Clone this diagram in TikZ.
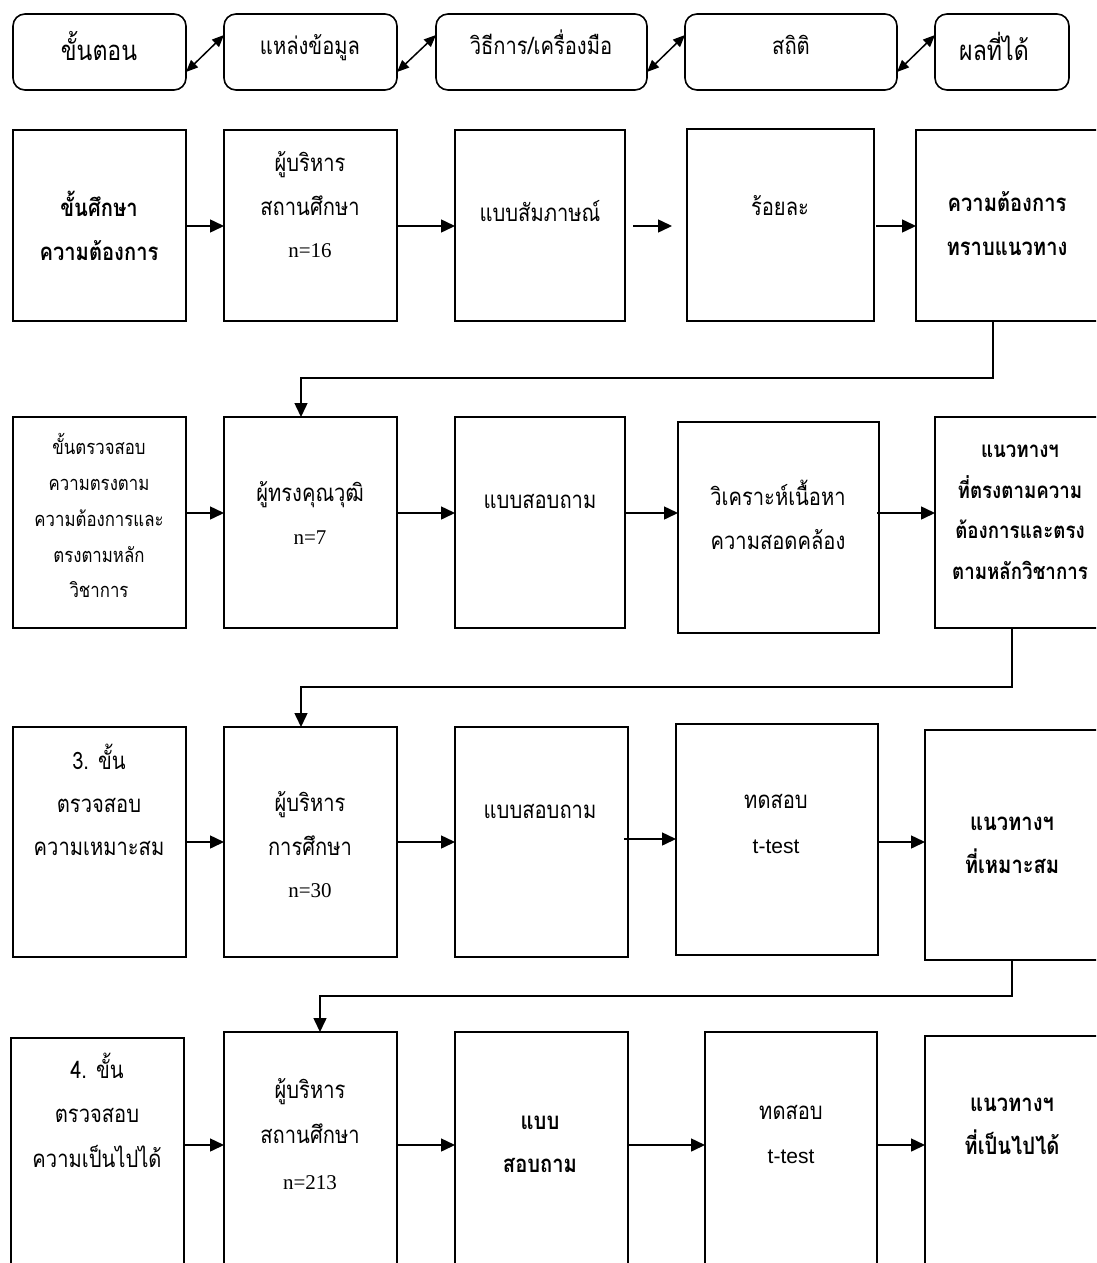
\documentclass[tikz,border=0pt]{standalone}
\usepackage{fontspec}
\setmainfont{Liberation Serif}
\newfontfamily\thai[Script=Thai,FakeStretch=0.84]{Loma}
\newfontfamily\arial{Liberation Sans}
\usetikzlibrary{arrows.meta}
\newcommand\tl[5][]{\node[txt,#1] (#2) at (#3,#4) {#5};}
\begin{document}
\begin{tikzpicture}[x=1pt,y=-1pt,
  box/.style={draw, fill=white, line width=1.6pt, inner sep=0pt, outer sep=0pt, anchor=north west},
  hbox/.style={box, rounded corners=12pt},
  arr/.style={line width=1.5pt, -{Triangle[length=14pt,width=13pt]}},
  darr/.style={line width=1.5pt, {Triangle[length=12pt,width=10pt]}-{Triangle[length=12pt,width=10pt]}},
  txt/.style={inner sep=0pt, anchor=base, font=\thai\fontsize{24}{24}\selectfont},
  big/.style={font=\thai\fontsize{27.5}{27.5}\selectfont},
  small/.style={font=\thai\fontsize{20}{20}\selectfont},
  bold/.style={font=\thai\bfseries\fontsize{24}{24}\selectfont},
  boldn/.style={font=\thai\bfseries\fontsize{22.3}{22.3}\selectfont},
  ser/.style={font=\fontsize{21}{21}\selectfont},
  sans/.style={font=\arial\fontsize{21}{21}\selectfont}]
\useasboundingbox (0,0) rectangle (1096,1263);
\clip (0,0) rectangle (1096,1263);
\fill[white] (0,0) rectangle (1096,1263);

% header
\node[hbox, minimum width=173pt, minimum height=76pt] (h1) at (13,14) {};
\node[hbox, minimum width=173pt, minimum height=76pt] (h2) at (224,14) {};
\node[hbox, minimum width=211pt, minimum height=76pt] (h3) at (436,14) {};
\node[hbox, minimum width=212pt, minimum height=76pt] (h4) at (685,14) {};
\node[hbox, minimum width=134pt, minimum height=76pt] (h5) at (935,14) {};
\tl[big]{h1t}{99}{61}{ขั้นตอน}
\tl{h2t}{310}{55}{แหล่งข้อมูล}
\tl{h3t}{541}{55}{วิธีการ/เครื่องมือ}
\tl{h4t}{791}{55}{สถิติ}
\tl[big]{h5t}{994}{61}{ผลที่ได้}
\coordinate (hlo) at (0,72);
\coordinate (hhi) at (0,35);
\draw[darr] (h1.east |- hlo) -- (h2.west |- hhi);
\draw[darr] (h2.east |- hlo) -- (h3.west |- hhi);
\draw[darr] (h3.east |- hlo) -- (h4.west |- hhi);
\draw[darr] (h4.east |- hlo) -- (h5.west |- hhi);

% row 1
\node[box, minimum width=173pt, minimum height=191pt] (a1) at (13,130) {};
\node[box, minimum width=173pt, minimum height=191pt] (a2) at (224,130) {};
\node[box, minimum width=170pt, minimum height=191pt] (a3) at (455,130) {};
\node[box, minimum width=187pt, minimum height=192pt] (a4) at (687,129) {};
\node[box, minimum width=190pt, minimum height=191pt] (a5) at (916,130) {};
\tl[bold]{a1t1}{99}{216}{ขั้นศึกษา}
\tl[bold]{a1t2}{99}{260}{ความต้องการ}
\tl{a2t1}{310}{171}{ผู้บริหาร}
\tl{a2t2}{310}{215}{สถานศึกษา}
\tl[ser]{a2t3}{310}{257}{n=16}
\tl{a3t1}{540}{221}{แบบสัมภาษณ์}
\tl{a4t1}{780}{215}{ร้อยละ}
\tl[bold]{a5t1}{1007}{211}{ความต้องการ}
\tl[bold]{a5t2}{1007}{255}{ทราบแนวทาง}
\coordinate (r1) at (0,226);
\draw[arr] (a1.east |- r1) -- (a2.west |- r1);
\draw[arr] (a2.east |- r1) -- (a3.west |- r1);
\draw[arr] ([xshift=8pt]a3.east |- r1) -- ([xshift=-15pt]a4.west |- r1);
\draw[arr] ([xshift=2pt]a4.east |- r1) -- (a5.west |- r1);

% connector 1
\coordinate (k1a) at (993,378);
\coordinate (k1b) at (301,378);

% row 2
\node[box, minimum width=173pt, minimum height=211pt] (b1) at (13,417) {};
\node[box, minimum width=173pt, minimum height=211pt] (b2) at (224,417) {};
\node[box, minimum width=170pt, minimum height=211pt] (b3) at (455,417) {};
\node[box, minimum width=201pt, minimum height=211pt] (b4) at (678,422) {};
\node[box, minimum width=170pt, minimum height=211pt] (b5) at (935,417) {};
\tl[small]{b1t1}{99}{454}{ขั้นตรวจสอบ}
\tl[small]{b1t2}{99}{490}{ความตรงตาม}
\tl[small]{b1t3}{99}{526}{ความต้องการและ}
\tl[small]{b1t4}{99}{562}{ตรงตามหลัก}
\tl[small]{b1t5}{99}{597}{วิชาการ}
\tl{b2t1}{310}{501}{ผู้ทรงคุณวุฒิ}
\tl[ser]{b2t2}{310}{544}{n=7}
\tl{b3t1}{540}{508}{แบบสอบถาม}
\tl{b4t1}{778}{505}{วิเคราะห์เนื้อหา}
\tl{b4t2}{778}{549}{ความสอดคล้อง}
\tl[boldn]{b5t1}{1020}{457}{แนวทางฯ}
\tl[boldn]{b5t2}{1020}{498}{ที่ตรงตามความ}
\tl[boldn]{b5t3}{1020}{538}{ต้องการและตรง}
\tl[boldn]{b5t4}{1020}{579}{ตามหลักวิชาการ}
\draw[arr] (a5.south -| k1a) -- (k1a) -- (k1b) -- (k1b |- b2.north);
\coordinate (r2) at (0,513);
\draw[arr] (b1.east |- r2) -- (b2.west |- r2);
\draw[arr] (b2.east |- r2) -- (b3.west |- r2);
\draw[arr] (b3.east |- r2) -- (b4.west |- r2);
\draw[arr] ([xshift=-2pt]b4.east |- r2) -- (b5.west |- r2);

% connector 2
\coordinate (k2a) at (1012,687);
\coordinate (k2b) at (301,687);

% row 3
\node[box, minimum width=173pt, minimum height=230pt] (c1) at (13,727) {};
\node[box, minimum width=173pt, minimum height=230pt] (c2) at (224,727) {};
\node[box, minimum width=173pt, minimum height=230pt] (c3) at (455,727) {};
\node[box, minimum width=202pt, minimum height=231pt] (c4) at (676,724) {};
\node[box, minimum width=180pt, minimum height=230pt] (c5) at (925,730) {};
\tl{c1t1}{99}{769}{3. ขั้น}
\tl{c1t2}{99}{812}{ตรวจสอบ}
\tl{c1t3}{99}{855}{ความเหมาะสม}
\tl{c2t1}{310}{811}{ผู้บริหาร}
\tl{c2t2}{310}{855}{การศึกษา}
\tl[ser]{c2t3}{310}{897}{n=30}
\tl{c3t1}{540}{818}{แบบสอบถาม}
\tl{c4t1}{776}{808}{ทดสอบ}
\tl[sans]{c4t2}{776}{853}{t-test}
\tl[bold]{c5t1}{1012}{830}{แนวทางฯ}
\tl[bold]{c5t2}{1012}{873}{ที่เหมาะสม}
\draw[arr] (b5.south -| k2a) -- (k2a) -- (k2b) -- (k2b |- c2.north);
\coordinate (r3) at (0,842);
\coordinate (r3b) at (0,839);
\draw[arr] (c1.east |- r3) -- (c2.west |- r3);
\draw[arr] (c2.east |- r3) -- (c3.west |- r3);
\draw[arr] ([xshift=-4pt]c3.east |- r3b) -- (c4.west |- r3b);
\draw[arr] (c4.east |- r3) -- (c5.west |- r3);

% connector 3
\coordinate (k3a) at (1012,996);
\coordinate (k3b) at (320,996);

% row 4
\node[box, minimum width=173pt, minimum height=240pt] (d1) at (11,1038) {};
\node[box, minimum width=173pt, minimum height=240pt] (d2) at (224,1032) {};
\node[box, minimum width=173pt, minimum height=240pt] (d3) at (455,1032) {};
\node[box, minimum width=172pt, minimum height=240pt] (d4) at (705,1032) {};
\node[box, minimum width=180pt, minimum height=240pt] (d5) at (925,1036) {};
\tl{d1t1}{97}{1078}{4. ขั้น}
\tl{d1t2}{97}{1122}{ตรวจสอบ}
\tl{d1t3}{97}{1167}{ความเป็นไปได้}
\tl{d2t1}{310}{1098}{ผู้บริหาร}
\tl{d2t2}{310}{1143}{สถานศึกษา}
\tl[ser]{d2t3}{310}{1189}{n=213}
\tl[bold]{d3t1}{540}{1129}{แบบ}
\tl[bold]{d3t2}{540}{1172}{สอบถาม}
\tl{d4t1}{791}{1119}{ทดสอบ}
\tl[sans]{d4t2}{791}{1163}{t-test}
\tl[bold]{d5t1}{1012}{1111}{แนวทางฯ}
\tl[bold]{d5t2}{1012}{1154}{ที่เป็นไปได้}
\draw[arr] (c5.south -| k3a) -- (k3a) -- (k3b) -- (k3b |- d2.north);
\coordinate (r4) at (0,1145);
\draw[arr] (d1.east |- r4) -- (d2.west |- r4);
\draw[arr] (d2.east |- r4) -- (d3.west |- r4);
\draw[arr] (d3.east |- r4) -- (d4.west |- r4);
\draw[arr] (d4.east |- r4) -- (d5.west |- r4);
\end{tikzpicture}
\end{document}
